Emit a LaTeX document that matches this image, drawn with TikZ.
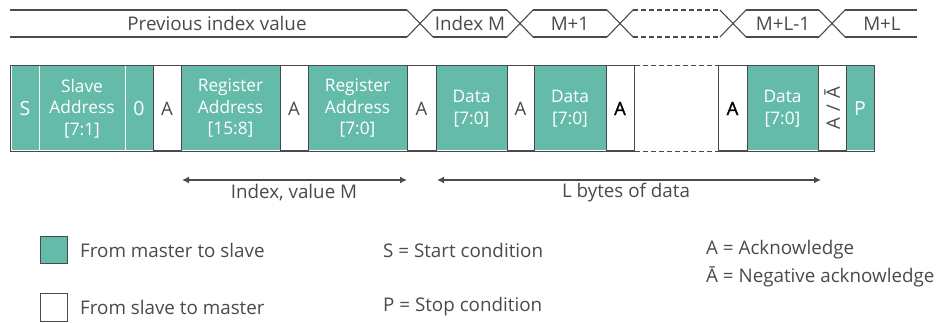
\documentclass[tikz,border=0pt]{standalone}
\usepackage{fontspec}
\setmainfont{Open Sans}
\usetikzlibrary{arrows.meta}
\definecolor{teal1}{HTML}{64BBA9}
\definecolor{ink}{HTML}{4A4A4A}
\definecolor{framec}{HTML}{4A4A4A}
\begin{document}
\begin{tikzpicture}[x=1pt,y=-1pt,
  lbl/.style={text=ink, inner sep=0pt, font=\fontsize{18.8}{20}\selectfont},
  master/.style={fill=teal1, draw=white, line width=1pt, inner sep=0pt, minimum height=85pt, text=white, align=center, font=\fontsize{17.3}{21.5}\selectfont},
  slave/.style={fill=white, draw=framec, line width=1pt, inner sep=0pt, minimum height=85pt, text=ink, align=center, font=\fontsize{18.5}{21.5}\selectfont},
  big/.style={font=\fontsize{19.5}{21.5}\selectfont},
  boldack/.style={slave, text=black, font=\fontsize{18.5}{21.5}\selectfont\addfontfeature{FakeBold=1.2}},
  frameline/.style={draw=framec, line width=1.2pt},
  busline/.style={draw=framec, line width=1.1pt},
  dashpat/.style={dash pattern=on 5pt off 3pt},
  dimline/.style={draw=framec, line width=1.4pt, {Latex[length=7pt,width=7pt]}-{Latex[length=7pt,width=7pt]}},
  legbox/.style={draw=framec, line width=1pt, minimum width=27pt, minimum height=27pt, inner sep=0pt}]
\useasboundingbox (0,0) rectangle (951,323);

% ---------- bus (index value) ----------
\def\bt{10}\def\bb{37}\def\h{13}
\foreach \c in {420,520,620,733,832}{
  \draw[busline] (\c-\h,\bt) -- (\c+\h,\bb);
  \draw[busline] (\c-\h,\bb) -- (\c+\h,\bt);
}
\foreach \a/\b in {10/407, 433/507, 533/607, 746/819, 845/917}{
  \draw[busline] (\a,\bt) -- (\b,\bt);
  \draw[busline] (\a,\bb) -- (\b,\bb);
}
\draw[busline, dashpat] (633,\bt) -- (720,\bt);
\draw[busline, dashpat] (633,\bb) -- (720,\bb);

\node[lbl] (prev) at (217,23.5) {Previous index value};
\node[lbl] (idxm) at (470,23.5) {Index M};
\node[lbl] (m1) at (570,23.5) {M+1};
\node[lbl] (mll) at (783,23.5) {M+L-1};
\node[lbl] (ml) at (882,23.5) {M+L};

% ---------- packet ----------
\node[master, big, minimum width=28pt] (s) at (25,108.5) {S};
\node[master, minimum width=86pt] (sa) at (82,108.5) {Slave\\Address\\{[7:1]}};
\node[master, big, minimum width=28pt] (rw) at (139,108.5) {0};
\node[master, minimum width=99pt] (r1) at (230.5,108.5) {Register\\Address\\{[15:8]}};
\node[master, minimum width=99pt] (r2) at (357.5,108.5) {Register\\Address\\{[7:0]}};
\node[master, minimum width=71pt] (d1) at (471.5,108.5) {Data\\{[7:0]}};
\node[master, minimum width=72pt] (d2) at (570,108.5) {Data\\{[7:0]}};
\node[master, minimum width=71pt] (d3) at (782.5,108.5) {Data\\{[7:0]}};
\node[master, big, minimum width=28pt] (p) at (860,108.5) {P};

\node[slave, minimum width=28pt] (a1) at (167,108.5) {A};
\node[slave, minimum width=28pt] (a2) at (294,108.5) {A};
\node[slave, minimum width=29pt] (a3) at (421.5,108.5) {A};
\node[slave, minimum width=27pt] (a4) at (520.5,108.5) {A};
\node[boldack, minimum width=28pt] (a5) at (620,108.5) {A};
\node[boldack, minimum width=29pt] (a6) at (732.5,108.5) {A};
\node[slave, minimum width=28pt] (a7) at (832,108.5) {};
\node[rotate=90, text=ink, inner sep=0pt, font=\fontsize{18.5}{20}\selectfont] (a7t) at (a7.center) {A\,\,/\,\,Ā};

\draw[frameline] (a5.north east) -- (s.north west) -- (s.south west) -- (a5.south east);
\draw[frameline] (a6.north west) -- (p.north east) -- (p.south east) -- (a6.south west);
\draw[frameline, dashpat] (a5.north east) -- (a6.north west);
\draw[frameline, dashpat] (a5.south east) -- (a6.south west);

% ---------- dimension arrows ----------
\coordinate (i1) at (182,180);
\coordinate (i2) at (407,180);
\coordinate (l1) at (437,180);
\coordinate (l2) at (821,180);
\draw[dimline] (i1) -- (i2);
\draw[dimline] (l1) -- (l2);
\node[lbl] (il) at (294,193) {Index, value M};
\node[lbl] (ll) at (626,193) {L bytes of data};

% ---------- legend ----------
\node[legbox, fill=teal1] (lm) at (53.5,250.5) {};
\node[legbox, fill=white] (ls) at (53.5,307.5) {};
\node[lbl, anchor=west] (tm) at (80,250) {From master to slave};
\node[lbl, anchor=west] (ts) at (80,307) {From slave to master};
\node[lbl, anchor=west] (tsc) at (383,250) {S = Start condition};
\node[lbl, anchor=west] (tpc) at (383,307) {P = Stop condition};
\node[lbl, anchor=west] (tack) at (706,250) {A = Acknowledge};
\node[lbl, anchor=west] (tnack) at (706,277) {Ā = Negative acknowledge};
\end{tikzpicture}
\end{document}
